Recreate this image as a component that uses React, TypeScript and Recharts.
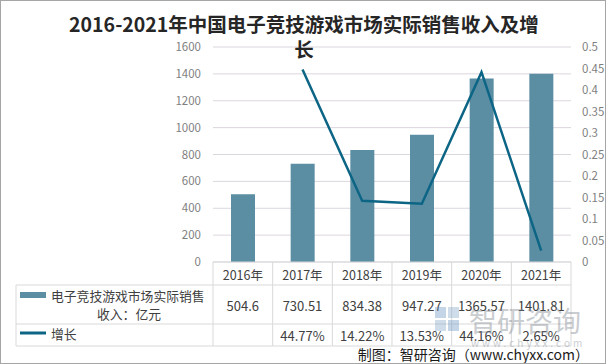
import { ComposedChart, Bar, Line, XAxis, YAxis, CartesianGrid } from "recharts";

const years = ["2016年", "2017年", "2018年", "2019年", "2020年", "2021年"];
const revenue = [504.6, 730.51, 834.38, 947.27, 1365.57, 1401.81];
const revenueLabels = ["504.6", "730.51", "834.38", "947.27", "1365.57", "1401.81"];
const growth = [null, 0.4477, 0.1422, 0.1353, 0.4416, 0.0265];
const growthLabels = ["", "44.77%", "14.22%", "13.53%", "44.16%", "2.65%"];
const leftTicks = [0, 200, 400, 600, 800, 1000, 1200, 1400, 1600];
const rightTicks = [0, 0.05, 0.1, 0.15, 0.2, 0.25, 0.3, 0.35, 0.4, 0.45, 0.5];

const data = years.map((year, i) => ({ year, revenue: revenue[i], growth: growth[i] }));

const W = 606;
const H = 364;
const PLOT_LEFT = 213;
const PLOT_RIGHT = 571;
const BAND = (PLOT_RIGHT - PLOT_LEFT) / years.length;
const TABLE_LEFT = 16;
const BAR_COLOR = "#5b8ea3";
const LINE_COLOR = "#0d6585";
const BORDER = "#d9d9d9";
const FONT = '"Noto Sans CJK SC", "Noto Sans", sans-serif';
const TEXT = "#404040";

function TableTick(props: any) {
  const { x, y, payload } = props;
  const i = props.index ?? years.indexOf(payload.value);
  const l = x - BAND / 2;
  const r = x + BAND / 2;
  const r1 = y + 23;
  const r2 = y + 62;
  const r3 = y + 84;
  return (
    <g fontFamily={FONT} fill={TEXT}>
      <line x1={r} y1={y} x2={r} y2={r3} stroke={BORDER} />
      <line x1={l} y1={r1} x2={r} y2={r1} stroke={BORDER} />
      <line x1={l} y1={r2} x2={r} y2={r2} stroke={BORDER} />
      <line x1={l} y1={r3} x2={r} y2={r3} stroke={BORDER} />
      <text x={x} y={y + 12} textAnchor="middle" dominantBaseline="central" fontSize={12.5}>
        {years[i]}
      </text>
      <text x={x} y={y + 43} textAnchor="middle" dominantBaseline="central" fontSize={13}>
        {revenueLabels[i]}
      </text>
      <text x={x} y={y + 73} textAnchor="middle" dominantBaseline="central" fontSize={13}>
        {growthLabels[i]}
      </text>
      {i === 0 && (
        <g>
          <line x1={l} y1={y} x2={l} y2={r3} stroke={BORDER} />
          <line x1={TABLE_LEFT} y1={r1} x2={TABLE_LEFT} y2={r3} stroke={BORDER} />
          <line x1={TABLE_LEFT} y1={r1} x2={l} y2={r1} stroke={BORDER} />
          <line x1={TABLE_LEFT} y1={r2} x2={l} y2={r2} stroke={BORDER} />
          <line x1={TABLE_LEFT} y1={r3} x2={l} y2={r3} stroke={BORDER} />
          <rect x={20} y={y + 30} width={26} height={6} fill={BAR_COLOR} />
          <text x={51} y={y + 33} dominantBaseline="central" fontSize={12.8}>
            电子竞技游戏市场实际销售
          </text>
          <text x={129} y={y + 51} textAnchor="middle" dominantBaseline="central" fontSize={12.8}>
            收入：亿元
          </text>
          <line x1={20} y1={y + 71} x2={46} y2={y + 71} stroke={LINE_COLOR} strokeWidth={3} />
          <text x={51} y={y + 71} dominantBaseline="central" fontSize={12.8}>
            增长
          </text>
        </g>
      )}
    </g>
  );
}

export default function App() {
  return (
    <div
      style={{
        position: "absolute",
        left: 0,
        top: 0,
        width: W,
        height: H,
        boxSizing: "border-box",
        border: "1px solid #a6a6a6",
        background: "#fff",
        fontFamily: FONT,
        overflow: "hidden",
      }}
    >
      <div style={{ position: "absolute", left: -1, top: -1 }}>
        <ComposedChart width={W} height={H} data={data} margin={{ top: 47, right: 0, bottom: 0, left: 0 }}>
          <CartesianGrid yAxisId="left" vertical={false} stroke="#dcd6df" />
          <XAxis
            dataKey="year"
            height={102}
            interval={0}
            tickLine={false}
            tickSize={0}
            tickMargin={0}
            axisLine={{ stroke: BORDER }}
            tick={<TableTick />}
          />
          <YAxis
            yAxisId="left"
            width={PLOT_LEFT}
            domain={[0, 1600]}
            ticks={leftTicks}
            axisLine={false}
            tickLine={false}
            tickSize={0}
            tickMargin={12}
            tick={{ fontSize: 11.5, fill: "#7f7f7f", fontFamily: FONT }}
          />
          <YAxis
            yAxisId="right"
            orientation="right"
            width={W - PLOT_RIGHT}
            domain={[0, 0.5]}
            ticks={rightTicks}
            axisLine={false}
            tickLine={false}
            tickSize={0}
            tickMargin={11}
            tick={{ fontSize: 11.5, fill: "#7f7f7f", fontFamily: FONT }}
          />
          <Bar yAxisId="left" dataKey="revenue" fill={BAR_COLOR} barSize={24} isAnimationActive={false} />
          <Line
            yAxisId="right"
            dataKey="growth"
            type="linear"
            stroke={LINE_COLOR}
            strokeWidth={2.5}
            dot={false}
            activeDot={false}
            isAnimationActive={false}
          />
        </ComposedChart>
      </div>
      <div
        style={{
          position: "absolute",
          left: 0,
          top: 11,
          width: W,
          textAlign: "center",
          fontSize: 19.5,
          fontWeight: "bold",
          lineHeight: "24.5px",
          color: "#262626",
        }}
      >
        2016-2021年中国电子竞技游戏市场实际销售收入及增
        <br />长
      </div>
      <div style={{ position: "absolute", left: 434, top: 304, opacity: 0.4, pointerEvents: "none" }}>
        <div style={{ position: "absolute", left: 0, top: 2, width: 11, height: 11, background: "#6d98c4" }} />
        <div style={{ position: "absolute", left: 13, top: 2, width: 11, height: 11, background: "#8aa9c9" }} />
        <div style={{ position: "absolute", left: 0, top: 15, width: 11, height: 11, background: "#8aa9c9" }} />
        <div style={{ position: "absolute", left: 13, top: 15, width: 11, height: 11, background: "#6d98c4" }} />
        <div style={{ position: "absolute", left: 34, top: -5, fontSize: 28, color: "#7a838c", whiteSpace: "nowrap" }}>
          智研咨询
        </div>
        <div
          style={{
            position: "absolute",
            left: 36,
            top: 30,
            fontSize: 10,
            letterSpacing: 3,
            color: "#7a838c",
            whiteSpace: "nowrap",
          }}
        >
          www.chyxx.com
        </div>
      </div>
      <div
        style={{
          position: "absolute",
          right: 16,
          top: 343,
          fontSize: 14,
          color: "#1a1a1a",
          whiteSpace: "nowrap",
        }}
      >
        制图：智研咨询（www.chyxx.com）
      </div>
    </div>
  );
}
